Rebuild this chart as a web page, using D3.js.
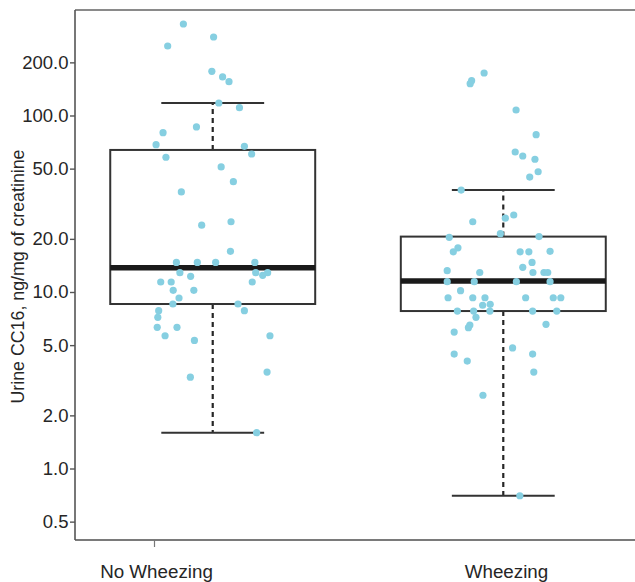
<!DOCTYPE html>
<html>
<head>
<meta charset="utf-8">
<script src="https://cdn.jsdelivr.net/npm/d3@7"></script>
<style>
  html, body { margin: 0; padding: 0; background: #fff; }
  svg { display: block; font-family: "Liberation Sans", Arial, Helvetica, sans-serif; }
</style>
</head>
<body>
<svg id="chart" width="635" height="582"></svg>
<script>
// ---------- data ----------
const categories = ["No Wheezing", "Wheezing"];
const yTickValues = [0.5, 1, 2, 5, 10, 20, 50, 100, 200];
const yTickLabels = ["0.5", "1.0", "2.0", "5.0", "10.0", "20.0", "50.0", "100.0", "200.0"];
const yTitle = "Urine CC16, ng/mg of creatinine";

// box statistics: [lower whisker, Q1, median, Q3, upper whisker]
const noWheezingBox = [1.595, 8.55, 13.73, 63.8, 117.7];
const wheezingBox = [0.701, 7.80, 11.54, 20.6, 37.8];

// individual observations (ng/mg) and their horizontal jitter (category units)
const noWheezingValues = [330, 278.5, 247.6, 178, 165.3, 155.4, 117.7, 110.7, 86.1, 79.9,
  68.3, 66.9, 60.5, 58.0, 51.1, 42.2, 36.9, 25.0, 23.9, 17.0,
  14.7, 14.7, 14.7, 14.7, 12.86, 12.86, 12.86, 12.43, 12.27, 11.39,
  11.39, 11.39, 10.22, 10.22, 9.25, 8.55, 8.55, 7.84, 7.84, 7.19,
  6.31, 6.31, 5.65, 5.65, 5.32, 3.52, 3.29, 1.595];
const noWheezingJitter = [-0.101, 0.003, -0.155, -0.003, 0.034, 0.056, 0.021, 0.092, -0.056, -0.171,
  -0.195, 0.109, 0.134, -0.161, 0.029, 0.071, -0.108, 0.063, -0.038, 0.061,
  -0.125, -0.053, 0.010, 0.145, -0.113, 0.148, 0.189, 0.172, -0.076, -0.179,
  -0.143, 0.136, -0.136, -0.065, -0.116, -0.137, 0.087, -0.186, 0.109, -0.189,
  -0.191, -0.123, -0.164, 0.197, -0.063, 0.187, -0.077, 0.151];

const wheezingValues = [174.1, 157.5, 151.4, 107.4, 77.9, 62.1, 58.96, 56.5, 48.0, 44.8,
  37.8, 27.3, 26.2, 25.0, 21.4, 20.4, 20.6, 17.8, 16.9, 16.9,
  16.9, 17.0, 14.7, 13.8, 13.2, 12.9, 12.9, 12.9, 12.9, 11.44,
  11.44, 11.44, 11.44, 10.17, 9.28, 9.28, 9.28, 9.28, 9.28, 9.28,
  8.41, 8.52, 7.80, 7.80, 7.80, 7.80, 7.80, 7.19, 6.50, 6.28,
  6.56, 5.93, 4.82, 4.45, 4.45, 4.06, 3.52, 2.60, 0.701];
const wheezingJitter = [-0.066, -0.109, -0.114, 0.044, 0.113, 0.041, 0.067, 0.109, 0.120, 0.091,
  -0.145, 0.036, 0.007, -0.105, -0.010, -0.186, 0.123, -0.156, -0.172, 0.058,
  0.088, 0.161, 0.099, 0.067, -0.193, -0.081, 0.102, 0.140, 0.153, -0.193,
  -0.100, 0.045, 0.161, -0.147, -0.190, -0.105, -0.063, 0.077, 0.172, 0.198,
  -0.071, -0.045, -0.158, -0.102, -0.046, 0.101, 0.184, -0.094, -0.115, -0.120,
  0.147, -0.169, 0.032, -0.169, 0.101, -0.124, 0.105, -0.070, 0.057];

// ---------- layout ----------
const svg = d3.select("#chart");
const plot = { left: 75, right: 632, top: 10, bottom: 540 };
const boxHalf = 0.3527;   // half box width, category units
const capHalf = 0.177;    // half whisker-cap width, category units

const x = d3.scaleLinear().domain([0.526, 2.443]).range([plot.left, plot.right]);
const y = d3.scaleLog().domain([0.3935, 396]).range([plot.bottom, plot.top]);

const groups = [
  { pos: 1, box: noWheezingBox, values: noWheezingValues, jitter: noWheezingJitter },
  { pos: 2, box: wheezingBox, values: wheezingValues, jitter: wheezingJitter }
];

const ink = "#262626";

// frame
svg.append("line").attr("x1", plot.left).attr("x2", 635).attr("y1", plot.top).attr("y2", plot.top)
  .attr("stroke", "#8a8a8a").attr("stroke-width", 2);
svg.append("line").attr("x1", plot.left).attr("x2", 635).attr("y1", plot.bottom).attr("y2", plot.bottom)
  .attr("stroke", "#7a7a7a").attr("stroke-width", 2);

// y axis
const yAxis = d3.axisLeft(y).tickValues(yTickValues)
  .tickFormat((d, i) => yTickLabels[i]).tickSize(5).tickPadding(1.5);
const gy = svg.append("g").attr("transform", `translate(${plot.left},0)`).call(yAxis);
gy.select(".domain").attr("d", `M0,${plot.top}V${plot.bottom}`).attr("stroke", "#555").attr("stroke-width", 1.6);
gy.selectAll(".tick line").attr("stroke", "#555").attr("stroke-width", 1.4);
gy.selectAll(".tick text").attr("fill", ink).style("font-size", "18.5px")
  .style("font-family", "'Liberation Sans', Arial, sans-serif");

// y title
svg.append("text")
  .attr("transform", `translate(24,${(148 + 405) / 2}) rotate(-90)`)
  .attr("text-anchor", "middle")
  .attr("fill", ink)
  .style("font-size", "17.8px")
  .text(yTitle);

// x axis labels (offset as in the original figure)
const xLabel = d3.scaleLinear().domain([1, 2]).range([154, 506]);
const xAxis = d3.axisBottom(xLabel).tickValues([1, 2])
  .tickFormat((d) => categories[d - 1]).tickSize(7).tickPadding(18);
const gx = svg.append("g").attr("transform", `translate(0,${plot.bottom})`).call(xAxis);
gx.select(".domain").remove();
gx.selectAll(".tick line").attr("stroke", "#777").attr("stroke-width", 1.2)
  .attr("opacity", (d) => d === 1 ? 1 : 0);
gx.selectAll(".tick text").attr("fill", ink).style("font-size", "18.8px")
  .attr("dx", (d) => d === 1 ? 2 : 0)
  .style("font-family", "'Liberation Sans', Arial, sans-serif");

// boxes
const gBox = svg.append("g");
groups.forEach((g) => {
  const [lo, q1, med, q3, hi] = g.box;
  const cx = x(g.pos);
  // whiskers
  gBox.append("line").attr("x1", cx).attr("x2", cx).attr("y1", y(q3)).attr("y2", y(hi))
    .attr("stroke", ink).attr("stroke-width", 2.2).attr("stroke-dasharray", "5,4");
  gBox.append("line").attr("x1", cx).attr("x2", cx).attr("y1", y(q1)).attr("y2", y(lo))
    .attr("stroke", ink).attr("stroke-width", 2.2).attr("stroke-dasharray", "5,4");
  // caps
  [lo, hi].forEach((v) => {
    gBox.append("line").attr("x1", x(g.pos - capHalf)).attr("x2", x(g.pos + capHalf))
      .attr("y1", y(v)).attr("y2", y(v)).attr("stroke", "#333").attr("stroke-width", 2);
  });
  // box
  gBox.append("rect").attr("x", x(g.pos - boxHalf)).attr("y", y(q3))
    .attr("width", x(g.pos + boxHalf) - x(g.pos - boxHalf)).attr("height", y(q1) - y(q3))
    .attr("fill", "none").attr("stroke", "#333").attr("stroke-width", 2);
  // median
  gBox.append("line").attr("x1", x(g.pos - boxHalf)).attr("x2", x(g.pos + boxHalf))
    .attr("y1", y(med)).attr("y2", y(med)).attr("stroke", "#1a1a1a").attr("stroke-width", 5.5);
});

// points
const gPts = svg.append("g");
groups.forEach((g) => {
  const pts = g.values.map((v, i) => ({ v, j: g.jitter[i] }));
  gPts.selectAll(null).data(pts).enter().append("circle")
    .attr("cx", (d) => x(g.pos + d.j))
    .attr("cy", (d) => y(d.v))
    .attr("r", 3.6)
    .attr("fill", "#86cfe1");
});
</script>
</body>
</html>
